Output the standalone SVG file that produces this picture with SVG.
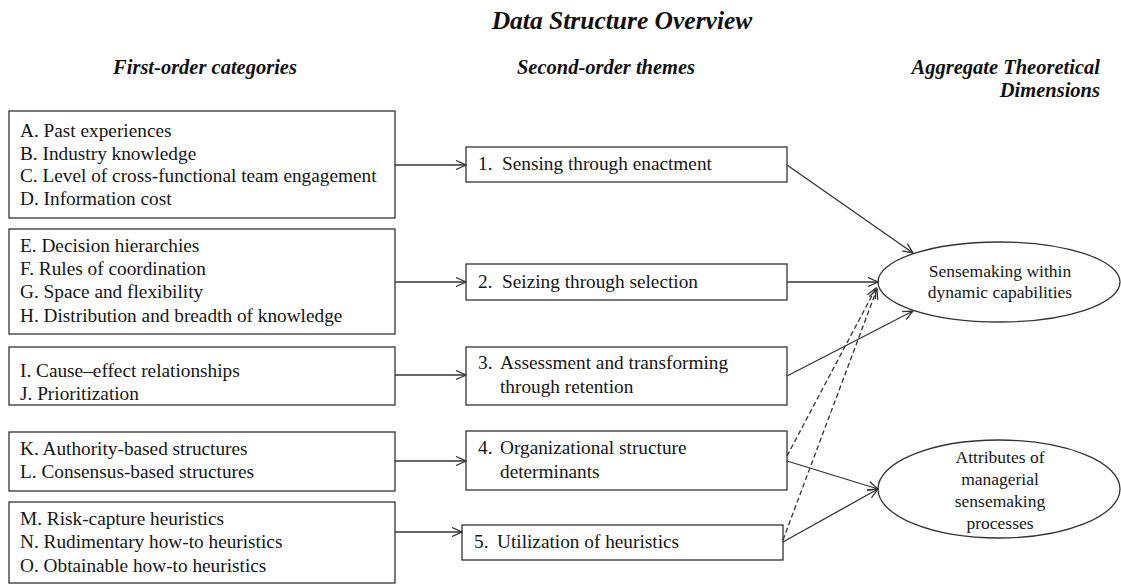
<svg xmlns="http://www.w3.org/2000/svg" width="1121" height="584" viewBox="0 0 1121 584">
  <style>
    .box { fill: #ffffff; stroke: #333333; stroke-width: 1.3; }
    .oval { fill: #ffffff; stroke: #333333; stroke-width: 1.3; }
    .t { font-family: "Liberation Serif", "Times New Roman", serif; font-size: 19.3px; fill: #151515; }
    .te { font-family: "Liberation Serif", "Times New Roman", serif; font-size: 17.5px; fill: #151515; text-anchor: middle; }
    .hd { font-family: "Liberation Serif", "Times New Roman", serif; font-weight: bold; font-style: italic; fill: #111111; }
    .link { fill: none; stroke: #333333; stroke-width: 1.3; marker-end: url(#open); }
    .dash { stroke-dasharray: 5 3; }
  </style>
  <defs>
    <marker id="open" viewBox="0 0 12 10" refX="11" refY="5" markerWidth="12" markerHeight="10" markerUnits="userSpaceOnUse" orient="auto">
      <path d="M1,0.5 L11,5 L1,9.5" fill="none" stroke="#333333" stroke-width="1.3"/>
    </marker>
  </defs>
  <rect width="1121" height="584" fill="#ffffff"/>

  <!-- headings -->
  <g id="headings">
    <text class="hd" x="622" y="29" font-size="25.5" text-anchor="middle">Data Structure Overview</text>
    <text class="hd" x="205" y="74" font-size="20.5" text-anchor="middle">First-order categories</text>
    <text class="hd" x="606" y="74" font-size="20.5" text-anchor="middle">Second-order themes</text>
    <text class="hd" x="1100" y="74" font-size="20.5" text-anchor="end">Aggregate Theoretical</text>
    <text class="hd" x="1100" y="97" font-size="20.5" text-anchor="end">Dimensions</text>
  </g>

  <!-- first-order categories -->
  <g id="cat-AD">
    <rect class="box" x="9" y="111" width="386" height="107"/>
    <text class="t" x="20" y="137">A. Past experiences</text>
    <text class="t" x="20" y="160">B. Industry knowledge</text>
    <text class="t" x="20" y="182">C. Level of cross-functional team engagement</text>
    <text class="t" x="20" y="205">D. Information cost</text>
  </g>
  <g id="cat-EH">
    <rect class="box" x="9" y="229" width="386" height="105"/>
    <text class="t" x="20" y="252">E. Decision hierarchies</text>
    <text class="t" x="20" y="275">F. Rules of coordination</text>
    <text class="t" x="20" y="298">G. Space and flexibility</text>
    <text class="t" x="20" y="322">H. Distribution and breadth of knowledge</text>
  </g>
  <g id="cat-IJ">
    <rect class="box" x="9" y="347" width="386" height="58"/>
    <text class="t" x="20" y="377">I. Cause–effect relationships</text>
    <text class="t" x="20" y="400">J. Prioritization</text>
  </g>
  <g id="cat-KL">
    <rect class="box" x="9" y="432" width="386" height="59"/>
    <text class="t" x="20" y="455">K. Authority-based structures</text>
    <text class="t" x="20" y="478">L. Consensus-based structures</text>
  </g>
  <g id="cat-MO">
    <rect class="box" x="9" y="502" width="386" height="81"/>
    <text class="t" x="20" y="525">M. Risk-capture heuristics</text>
    <text class="t" x="20" y="548">N. Rudimentary how-to heuristics</text>
    <text class="t" x="20" y="572">O. Obtainable how-to heuristics</text>
  </g>

  <!-- second-order themes -->
  <g id="theme-1">
    <rect class="box" x="466" y="147" width="321" height="35"/>
    <text class="t" x="478" y="170">1.</text>
    <text class="t" x="502" y="170">Sensing through enactment</text>
  </g>
  <g id="theme-2">
    <rect class="box" x="466" y="264" width="321" height="36"/>
    <text class="t" x="478" y="288">2.</text>
    <text class="t" x="502" y="288">Seizing through selection</text>
  </g>
  <g id="theme-3">
    <rect class="box" x="466" y="347" width="321" height="58"/>
    <text class="t" x="478" y="369">3.</text>
    <text class="t" x="500" y="369">Assessment and transforming</text>
    <text class="t" x="500" y="393">through retention</text>
  </g>
  <g id="theme-4">
    <rect class="box" x="466" y="431" width="321" height="59"/>
    <text class="t" x="478" y="454">4.</text>
    <text class="t" x="500" y="454">Organizational structure</text>
    <text class="t" x="500" y="478">determinants</text>
  </g>
  <g id="theme-5">
    <rect class="box" x="462" y="525" width="321" height="35"/>
    <text class="t" x="474" y="548">5.</text>
    <text class="t" x="497" y="548">Utilization of heuristics</text>
  </g>

  <!-- aggregate dimensions -->
  <g id="dim-sensemaking">
    <ellipse class="oval" cx="999" cy="282" rx="121" ry="40"/>
    <text class="te" x="1000" y="277">Sensemaking within</text>
    <text class="te" x="1000" y="298">dynamic capabilities</text>
  </g>
  <g id="dim-attributes">
    <ellipse class="oval" cx="999" cy="489" rx="121" ry="49"/>
    <text class="te" x="1000" y="463">Attributes of</text>
    <text class="te" x="1000" y="485">managerial</text>
    <text class="te" x="1000" y="507">sensemaking</text>
    <text class="te" x="1000" y="529">processes</text>
  </g>

  <!-- connectors -->
  <g id="connectors">
    <line class="link" x1="395" y1="165" x2="466" y2="165"/>
    <line class="link" x1="395" y1="282" x2="466" y2="282"/>
    <line class="link" x1="395" y1="375" x2="466" y2="375"/>
    <line class="link" x1="395" y1="461" x2="466" y2="461"/>
    <line class="link" x1="395" y1="532" x2="462" y2="532"/>

    <line class="link" x1="787" y1="165" x2="913" y2="253"/>
    <line class="link" x1="787" y1="282" x2="878" y2="282"/>
    <line class="link" x1="787" y1="376" x2="913" y2="311"/>
    <line class="link" x1="787" y1="461" x2="878" y2="489"/>
    <line class="link" x1="783" y1="542" x2="878" y2="489"/>

    <line class="link dash" x1="787" y1="456" x2="876" y2="288"/>
    <line class="link dash" x1="783" y1="540" x2="877" y2="289"/>
  </g>
</svg>
